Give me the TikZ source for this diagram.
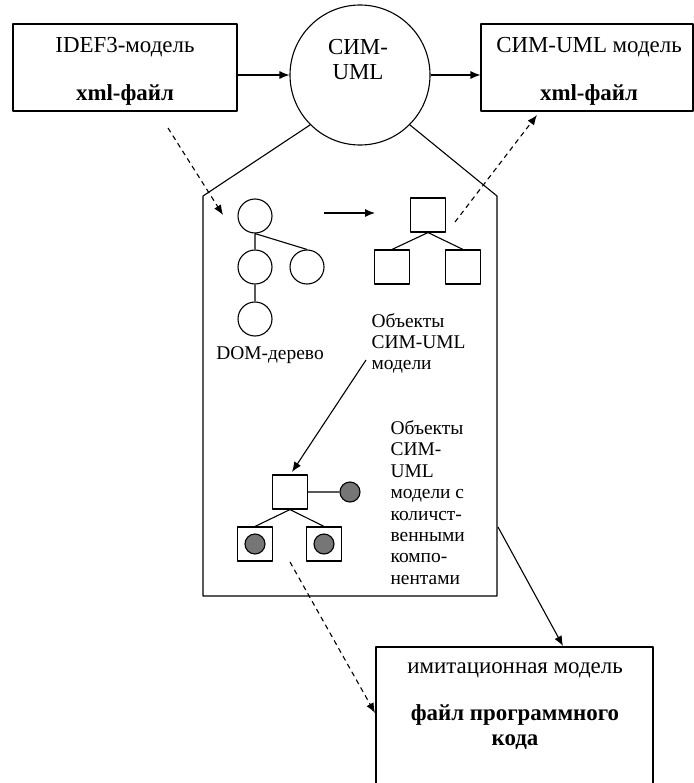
\documentclass[tikz,border=0pt]{standalone}
\usepackage{fontspec}
\setmainfont{Liberation Serif}
\usetikzlibrary{arrows.meta}
\definecolor{dotgray}{RGB}{118,118,118}

\begin{document}
\begin{tikzpicture}[x=1bp, y=-1bp, line join=round, line width=1.1bp,
  >={Latex[length=10bp,width=8bp]},
  every node/.style={inner sep=0pt, align=center},
  bigtext/.style={font=\fontsize{23}{25}\selectfont},
  smalltext/.style={font=\fontsize{19.5}{21.5}\selectfont, align=left},
  box/.style={draw, rectangle},
  domnode/.style={draw, circle, minimum size=34bp},
  objnode/.style={draw, rectangle, minimum width=35bp, minimum height=34bp},
  qdot/.style={draw, circle, fill=dotgray, minimum size=20bp},
  dasharrow/.style={->, dash pattern=on 5bp off 4bp}]
\useasboundingbox (0,0) rectangle (694,783);
\clip (0,0) rectangle (694,783);
% top row
\node[box, minimum width=224bp, minimum height=87bp] (idef) at (125,67.5) {};
\node[bigtext] (ideftext) at (125,71) {IDEF3-модель\\[23bp]\textbf{xml-файл}};
\node[draw, circle, minimum size=140bp] (sim) at (360,75) {};
\node[bigtext] (simtext) at (358,59.5) {СИМ-\\UML};
\node[box, minimum width=212bp, minimum height=87bp] (uml) at (587,67.5) {};
\node[bigtext] (umltext) at (589,71) {СИМ-UML модель\\[23bp]\textbf{xml-файл}};
\draw[->] (sim.west -| idef.east) -- (sim.west);
\draw[->] (sim.east) -- (sim.east -| uml.west);
% pentagon under the circle
\coordinate (pl) at (203,196);
\coordinate (pr) at (497,196);
\coordinate (bl) at (203,596);
\coordinate (br) at (497,596);
\draw (sim.south west) -- (pl) -- (bl) -- (br) -- (pr) -- (sim.south east);
% DOM tree
\node[domnode] (d1) at (255,216) {};
\node[domnode] (d2) at (255,267) {};
\node[domnode] (d3) at (307,267) {};
\node[domnode] (d4) at (255,319) {};
\draw (d1) -- (d2) (d1.south) -- (d3.north) (d2) -- (d4);
\node[smalltext] (domtext) at (270,355) {DOM-дерево};
\coordinate (t1) at (324,213);
\coordinate (t2) at (375,213);
\draw[->] (t1) -- (t2);
% objects
\node[objnode] (s1) at (428,215) {};
\node[objnode] (s2) at (392,267) {};
\node[objnode] (s3) at (463,267) {};
\draw (s1.south) -- (s2.north) (s1.south) -- (s3.north);
\node[smalltext, anchor=west] (objtext) at (371,343.5) {Объекты\\СИМ-UML\\модели};
% objects with components
\node[objnode] (q1) at (290,492) {};
\node[qdot] (g0) at (350,492) {};
\node[objnode] (q2) at (255,544) {};
\node[qdot] (g1) at (255,544) {};
\node[objnode] (q3) at (324,544) {};
\node[qdot] (g2) at (324,544) {};
\draw (q1.east) -- (g0.west) (q1.south) -- (q2.north) (q1.south) -- (q3.north);
\node[smalltext, anchor=west] (comptext) at (390,502.5)
  {Объекты\\СИМ-\\UML\\модели с\\количст-\\венными\\компо-\\нентами};
\coordinate (m1) at (366,360);
\coordinate (m2) at (292,472);
\draw[->] (m1) -- (m2);
% simulation model
\node[box, minimum width=277bp, minimum height=170bp] (imit) at (514.5,732) {};
\node[bigtext] (imittext) at (515,706)
  {имитационная модель\\[22bp]\textbf{файл программного}\\\textbf{кода}};
\coordinate (c1) at (498,527);
\coordinate (c2) at (563,646);
\draw[->] (c1) -- (c2);
% dashed links
\coordinate (a1) at (168,128);
\coordinate (a2) at (223,215);
\coordinate (b1) at (455,222);
\coordinate (b2) at (537,115);
\coordinate (e1) at (290,562);
\coordinate (e2) at (375,713);
\draw[dasharrow] (a1) -- (a2);
\draw[dasharrow] (b1) -- (b2);
\draw[dasharrow] (e1) -- (e2);
\end{tikzpicture}
\end{document}
